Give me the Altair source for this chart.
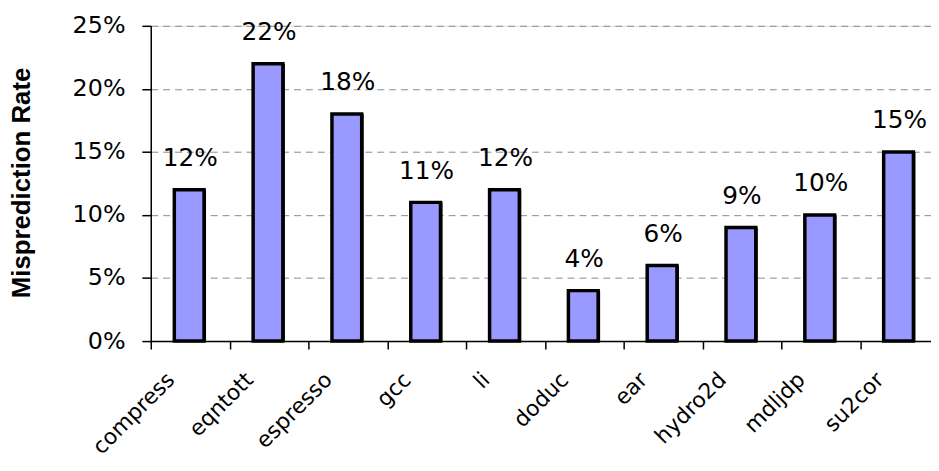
import altair as alt
import pandas as pd

benchmarks = ["compress", "eqntott", "espresso", "gcc", "li",
              "doduc", "ear", "hydro2d", "mdljdp", "su2cor"]
rates = [12, 22, 18, 11, 12, 4, 6, 9, 10, 15]
y_ticks = [0, 5, 10, 15, 20, 25]

df = pd.DataFrame({"benchmark": benchmarks, "rate": rates})
df["label"] = [f"{r}%" for r in rates]

FONT = "DejaVu Sans"
TITLE_FONT = "Liberation Sans"

x_enc = alt.X(
    "benchmark:N",
    sort=benchmarks,
    scale=alt.Scale(paddingInner=0, paddingOuter=0, range=[0, 795]),
    axis=alt.Axis(
        title=None,
        labelAngle=-45,
        labelAlign="right",
        labelBaseline="middle",
        labelFont=FONT,
        labelFontSize=22,
        labelColor="black",
        labelOffset=-20,
        labelPadding=27,
        tickBand="extent",
        tickSize=8,
        tickWidth=1.5,
        tickColor="black",
        domainColor="black",
        domainWidth=1.5,
        grid=False,
    ),
)

y_enc = alt.Y(
    "rate:Q",
    scale=alt.Scale(domain=[0, 25], nice=False),
    axis=alt.Axis(
        title="Misprediction Rate",
        titleFont=TITLE_FONT,
        titleFontSize=26,
        titleFontWeight="bold",
        titleColor="black",
        titleX=-117,
        titleY=158,
        titleAngle=-90,
        titleAlign="center",
        titleBaseline="bottom",
        values=y_ticks,
        labelExpr="datum.value + '%'",
        labelFont=FONT,
        labelFontSize=24,
        labelColor="black",
        labelPadding=17,
        tickSize=9,
        tickWidth=1.5,
        tickColor="black",
        domainColor="black",
        domainWidth=1.5,
        grid=True,
        gridDash=[7, 5],
        gridColor="#8a8a8a",
        gridWidth=1,
    ),
)

base = alt.Chart(df)

shadow = base.mark_bar(size=30, color="black", xOffset=1).encode(x=x_enc, y=y_enc)
bars = base.mark_bar(size=30, fill="#9999FF", stroke="black", strokeWidth=3.5, xOffset=-1).encode(
    x=x_enc, y=y_enc
)
labels = base.mark_text(
    baseline="alphabetic", dy=-24, font=FONT, fontSize=25, color="black"
).encode(x=x_enc, y=y_enc, text="label:N")

chart = (
    alt.layer(shadow, bars, labels)
    .properties(
        width=787,
        height=318,
        padding={"left": 144, "top": 16, "right": 0, "bottom": 120},
        autosize=alt.AutoSizeParams(type="none"),
    )
    .configure_view(stroke=None)
    .configure_axisY(grid=True, gridDash=[7, 5], gridColor="#8a8a8a", gridWidth=1)
    .configure(background="white")
)

chart.save("out.html", embed_options={"renderer": "svg", "actions": False})
